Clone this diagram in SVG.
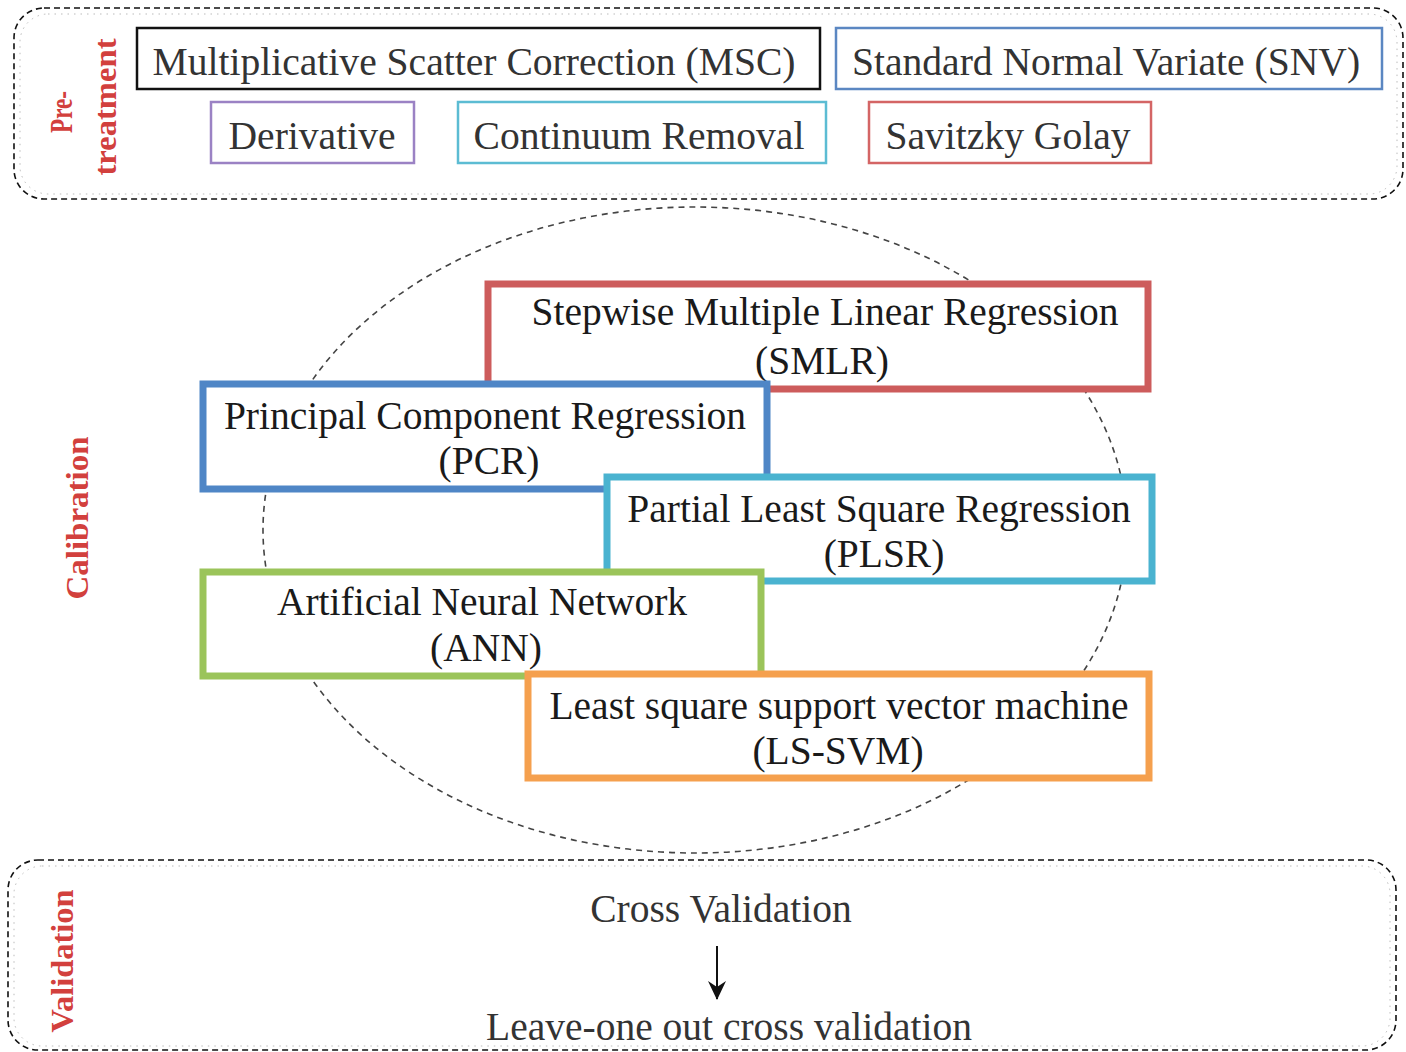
<svg xmlns="http://www.w3.org/2000/svg" width="1406" height="1052" viewBox="0 0 1406 1052">
<style>
.container{fill:none;stroke:#111;stroke-width:1.6;stroke-dasharray:6 4}
.shadow{fill:none;stroke:#bbb;stroke-width:1;stroke-dasharray:1.5 5}
.pbox{fill:#fff;stroke-width:2.5}
.cbox{fill:#fff;stroke-width:7}
.t{font-family:"Liberation Serif","Times New Roman",serif;fill:#333;text-anchor:middle}
.pt{font-size:39.6px}
.ct{font-size:39.5px;fill:#1a1a1a}
.vt{font-size:39.5px}
.lab{font-family:"Liberation Serif","Times New Roman",serif;font-weight:bold;fill:#d2403d;text-anchor:middle}
</style>
<defs>
<marker id="arr" markerWidth="22" markerHeight="22" refX="20" refY="11" orient="auto" markerUnits="userSpaceOnUse" viewBox="0 0 22 22">
<path d="M2,2 L21,11 L2,20 L8,11 Z" fill="#111"/>
</marker>
</defs>

<g id="pretreatment-container">
<rect class="shadow" x="20" y="14" width="1377" height="180" rx="28"/>
<rect class="container" x="14" y="8" width="1389" height="191" rx="30"/>
<text class="lab" transform="translate(72,112) rotate(-90)" font-size="32" textLength="42" lengthAdjust="spacingAndGlyphs">Pre-</text>
<text class="lab" transform="translate(116,107) rotate(-90)" font-size="32" textLength="137" lengthAdjust="spacingAndGlyphs">treatment</text>
</g>

<g id="msc"><rect class="pbox" x="137" y="28" width="683" height="61" stroke="#111" stroke-width="3.5"/><text class="t pt" x="474" y="75">Multiplicative Scatter Correction (MSC)</text></g>
<g id="snv"><rect class="pbox" x="836" y="28" width="546" height="61" stroke="#5b87c2"/><text class="t pt" x="1106" y="75">Standard Normal Variate (SNV)</text></g>
<g id="derivative"><rect class="pbox" x="211" y="102" width="203" height="61" stroke="#9b82c4"/><text class="t pt" x="312" y="149">Derivative</text></g>
<g id="continuum"><rect class="pbox" x="458" y="102" width="368" height="61" stroke="#5cbcd3"/><text class="t pt" x="639" y="149">Continuum Removal</text></g>
<g id="savitzky"><rect class="pbox" x="869" y="102" width="282" height="61" stroke="#d46565"/><text class="t pt" x="1008" y="149">Savitzky Golay</text></g>

<g id="calibration-region">
<ellipse cx="695" cy="530" rx="432" ry="323" fill="none" stroke="#444" stroke-width="1.6" stroke-dasharray="6 5"/>
<text class="lab" transform="translate(88,518) rotate(-90)" font-size="32" textLength="163" lengthAdjust="spacingAndGlyphs">Calibration</text>
</g>

<g id="smlr"><rect class="cbox" x="488" y="284" width="660" height="105" stroke="#cd5c5c"/><text class="t ct" x="825" y="325">Stepwise Multiple Linear Regression</text><text class="t ct" x="822" y="374">(SMLR)</text></g>
<g id="pcr"><rect class="cbox" x="203" y="384" width="564" height="105" stroke="#4f86c6"/><text class="t ct" x="485" y="429">Principal Component Regression</text><text class="t ct" x="489" y="474">(PCR)</text></g>
<g id="plsr"><rect class="cbox" x="607" y="477" width="545" height="104" stroke="#4ab3d0"/><text class="t ct" x="879" y="522">Partial Least Square Regression</text><text class="t ct" x="884" y="567">(PLSR)</text></g>
<g id="ann"><rect class="cbox" x="203" y="572" width="558" height="104" stroke="#9bc45a"/><text class="t ct" x="482" y="615">Artificial Neural Network</text><text class="t ct" x="486" y="661">(ANN)</text></g>
<g id="lssvm"><rect class="cbox" x="528" y="674" width="621" height="104" stroke="#f5a04e"/><text class="t ct" x="839" y="719">Least square support vector machine</text><text class="t ct" x="838" y="764">(LS-SVM)</text></g>

<g id="validation-container">
<rect class="shadow" x="14" y="866" width="1376" height="180" rx="28"/>
<rect class="container" x="8" y="860" width="1388" height="190" rx="30"/>
<text class="lab" transform="translate(73,961) rotate(-90)" font-size="32" textLength="143" lengthAdjust="spacingAndGlyphs">Validation</text>
</g>

<g id="cross-validation"><text class="t vt" x="721" y="922">Cross Validation</text></g>
<g id="loocv"><text class="t vt" x="729" y="1040">Leave-one out cross validation</text></g>

<g id="connectors">
<line x1="717" y1="946" x2="717" y2="999" stroke="#111" stroke-width="2" marker-end="url(#arr)"/>
</g>
</svg>
